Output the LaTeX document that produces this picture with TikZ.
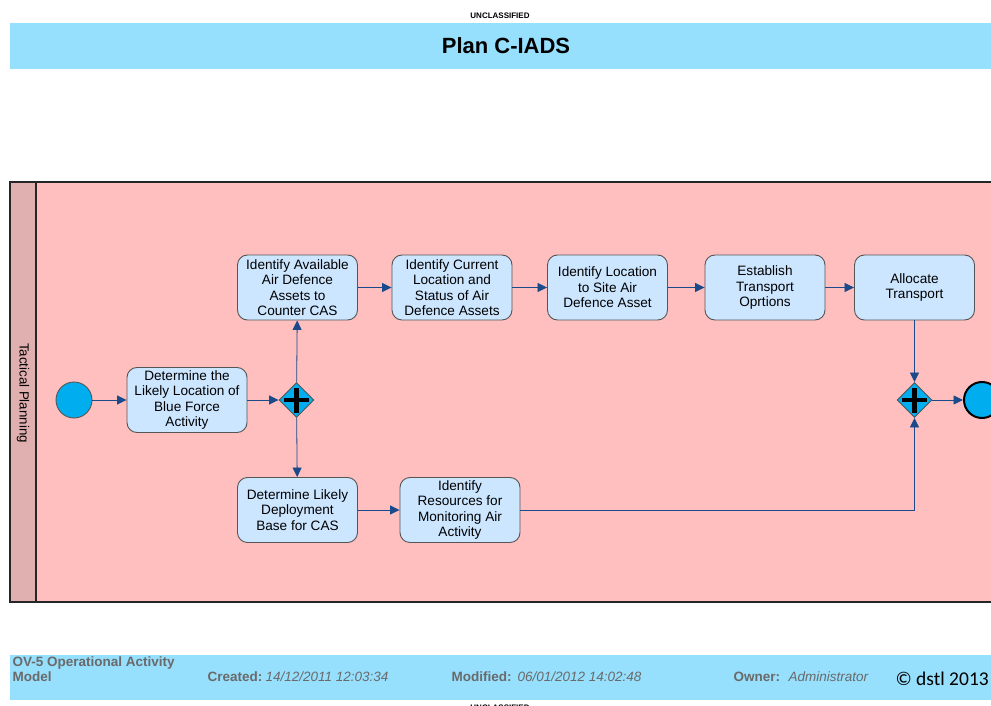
\documentclass[tikz,border=0pt]{standalone}
\usepackage{fontspec}
\setmainfont{Liberation Sans}
\newfontfamily\carl{Carlito}
\usetikzlibrary{shapes.geometric,arrows.meta}
\definecolor{bandblue}{HTML}{96DFFD}
\definecolor{lanepink}{HTML}{FFBFBF}
\definecolor{lanehead}{HTML}{E0AFAF}
\definecolor{taskfill}{HTML}{CCE6FF}
\definecolor{taskline}{HTML}{555555}
\definecolor{eventfill}{HTML}{00AEEF}
\definecolor{flowblue}{HTML}{1B4A8A}
\definecolor{footgray}{HTML}{6A6A6A}
\begin{document}
\begin{tikzpicture}[x=1pt,y=-1pt,
  task/.style={draw=taskline, line width=0.9pt, fill=taskfill, rounded corners=10pt,
    minimum width=120pt, minimum height=65pt, inner sep=1pt, align=center,
    font=\fontsize{13.6}{15.5}\selectfont},
  event/.style={circle, fill=eventfill, minimum size=36pt, inner sep=0pt},
  gateway/.style={diamond, draw=taskline, line width=0.9pt, fill=eventfill,
    minimum width=35pt, minimum height=35pt, inner sep=0pt,
    path picture={
      \draw[line width=4.5pt, black]
        ([xshift=-12.5pt]path picture bounding box.center) -- ([xshift=12.5pt]path picture bounding box.center)
        ([yshift=-12.5pt]path picture bounding box.center) -- ([yshift=12.5pt]path picture bounding box.center);}},
  flow/.style={draw=flowblue, line width=0.8pt, -{Triangle[length=9.5pt,width=9pt]}},
  footlabel/.style={anchor=west, text=footgray, font=\bfseries\fontsize{13.5}{15}\selectfont},
  footvalue/.style={anchor=west, text=footgray, font=\itshape\fontsize{13.5}{15}\selectfont},
  classmark/.style={font=\bfseries\fontsize{8}{9}\selectfont},
]
\useasboundingbox (0,0) rectangle (991,706);
\fill[white] (0,0) rectangle (991,706);

% header
\node[classmark] (topmark) at (500,16) {UNCLASSIFIED};
\fill[bandblue] (10,23) rectangle (991,69);
\node[font=\bfseries\fontsize{22}{26}\selectfont] (title) at (506,46) {Plan C-IADS};

% swimlane
\begin{scope}
\clip (0,0) rectangle (991,706);
\draw[line width=1.6pt, fill=lanepink, draw=black!85] (10,182) rectangle (1000,602);
\draw[line width=1.6pt, fill=lanehead, draw=black!85] (10,182) rectangle (36,602);
\node[rotate=-90, font=\fontsize{13.3}{15}\selectfont] (lane) at (23,393) {Tactical Planning};

% flow elements
\node[event, draw=taskline, line width=0.9pt] (start) at (74,400) {};
\node[task] (t1) at (187,400) {Determine the\\Likely Location of\\Blue Force\\Activity};
\node[gateway] (g1) at (296.5,400) {};
\node[task] (t2) at (297.5,287.5) {Identify Available\\Air Defence\\Assets to\\Counter CAS};
\node[task] (t3) at (452,287.5) {Identify Current\\Location and\\Status of Air\\Defence Assets};
\node[task] (t4) at (607.5,287.5) {Identify Location\\to Site Air\\Defence Asset};
\node[task] (t5) at (765,287.5) {Establish\\Transport\\Oprtions};
\node[task] (t6) at (914.5,287.5) {Allocate\\Transport};
\node[task] (t7) at (297.5,510) {Determine Likely\\Deployment\\Base for CAS};
\node[task] (t8) at (460,510) {Identify\\Resources for\\Monitoring Air\\Activity};
\node[gateway] (g2) at (914.5,400) {};
\node[event, draw=black, line width=2pt] (end) at (982,400) {};

% sequence flows
\draw[flow] (start) -- (t1);
\draw[flow] (t1) -- (g1);
\draw[flow] (g1) -- (t2);
\draw[flow] (g1) -- (t7);
\draw[flow] (t2) -- (t3);
\draw[flow] (t3) -- (t4);
\draw[flow] (t4) -- (t5);
\draw[flow] (t5) -- (t6);
\draw[flow] (t6) -- (g2);
\draw[flow] (t7) -- (t8);
\draw[flow] (t8.east) -| (g2.south);
\draw[flow] (g2) -- (end);
\end{scope}

% footer
\fill[bandblue] (10,655) rectangle (991,700);
\node[footlabel, align=left] (model) at (9,669.5) {OV-5 Operational Activity\\Model};
\node[footlabel] (created) at (204,677) {Created:};
\node[footvalue] (createdv) at (262,677) {14/12/2011 12:03:34};
\node[footlabel] (modified) at (448,677) {Modified:};
\node[footvalue] (modifiedv) at (514,677) {06/01/2012 14:02:48};
\node[footlabel] (owner) at (730,677) {Owner:};
\node[footvalue] (ownerv) at (785,677) {Administrator};
\node[anchor=west, font=\carl\fontsize{19.5}{22}\selectfont] (copy) at (892,679) {© dstl 2013};
\begin{scope}
\clip (0,0) rectangle (991,706);
\node[classmark] (bottommark) at (500,708) {UNCLASSIFIED};
\end{scope}
\end{tikzpicture}
\end{document}
